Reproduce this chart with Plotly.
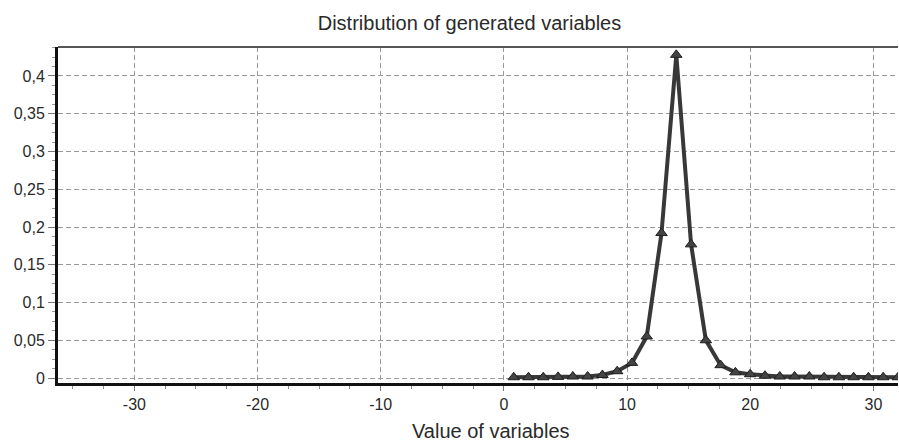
import plotly.graph_objects as go

# ---- data ----
x_values = [0.8, 2.0, 3.2, 4.4, 5.6, 6.8, 8.0, 9.2, 10.4, 11.6, 12.8, 14.0, 15.2,
            16.4, 17.6, 18.8, 20.0, 21.2, 22.4, 23.6, 24.8, 26.0, 27.2, 28.4,
            29.6, 30.8, 32.0]
y_values = [0.001, 0.001, 0.001, 0.0015, 0.002, 0.002, 0.004, 0.009, 0.020,
            0.055, 0.192, 0.428, 0.177, 0.050, 0.017, 0.0075, 0.005, 0.003,
            0.002, 0.002, 0.002, 0.001, 0.001, 0.001, 0.001, 0.001, 0.001]
x_ticks = [-30, -20, -10, 0, 10, 20, 30]
x_tick_labels = ["-30", "-20", "-10", "0", "10", "20", "30"]
y_ticks = [0, 0.05, 0.1, 0.15, 0.2, 0.25, 0.3, 0.35, 0.4]
y_tick_labels = ["0", "0,05", "0,1", "0,15", "0,2", "0,25", "0,3", "0,35", "0,4"]
title_text = "Distribution of generated variables"
x_label = "Value of variables"

FONT = "Liberation Sans, Arial, sans-serif"
W, H = 899, 441
L, R, T, B = 58, 1, 47, 58

fig = go.Figure()
fig.add_trace(go.Scatter(
    x=x_values, y=y_values, mode="lines+markers",
    line=dict(color="#383838", width=4),
    marker=dict(symbol="triangle-up", size=10, color="#444444",
                line=dict(color="#1e1e1e", width=1)),
    cliponaxis=True, showlegend=False,
))

grid = dict(showgrid=True, gridcolor="#9a9a9a", gridwidth=1, griddash="5px,3px")

fig.update_layout(
    width=W, height=H,
    margin=dict(l=L, r=R, t=T, b=B, pad=0),
    paper_bgcolor="white", plot_bgcolor="white",
    font=dict(family=FONT, size=16, color="#2a2a2a"),
    title=dict(text=title_text, x=469.5 / W, xref="container", xanchor="center",
               y=1 - 23 / H, yref="container", yanchor="middle",
               font=dict(family=FONT, size=20, color="#2a2a2a")),
    xaxis=dict(range=[-36.2, 32.0], tickvals=x_ticks, ticktext=x_tick_labels,
               zeroline=False,
               showline=True, linecolor="#111111", linewidth=3,
               ticks="outside", ticklen=5, tickcolor="#777777",
               minor=dict(dtick=2.5, tick0=0, ticks="outside", ticklen=3,
                          tickcolor="#888888", showgrid=False),
               tickfont=dict(size=16, color="#2a2a2a"), **grid),
    yaxis=dict(range=[-0.0066, 0.4384], tickvals=y_ticks, ticktext=y_tick_labels,
               zeroline=False,
               showline=True, linecolor="#111111", linewidth=3,
               ticks="outside", ticklen=7, tickcolor="#777777",
               minor=dict(dtick=0.0125, tick0=0, ticks="outside", ticklen=3,
                          tickcolor="#999999", showgrid=False),
               tickfont=dict(size=16, color="#2a2a2a"), **grid),
    annotations=[dict(text=x_label, xref="paper", yref="paper",
                      x=(491 - L) / (W - L - R), y=-(431 - (H - B)) / (H - T - B),
                      xanchor="center", yanchor="middle", showarrow=False,
                      font=dict(family=FONT, size=20, color="#2a2a2a"))],
    shapes=[dict(type="line", xref="paper", yref="paper", x0=0, x1=1, y0=1, y1=1,
                 line=dict(color="#555555", width=2))],
)

fig.write_html("out.html", config={"displayModeBar": False},
               post_script="document.body.style.margin='0';document.body.style.overflow='hidden';")
